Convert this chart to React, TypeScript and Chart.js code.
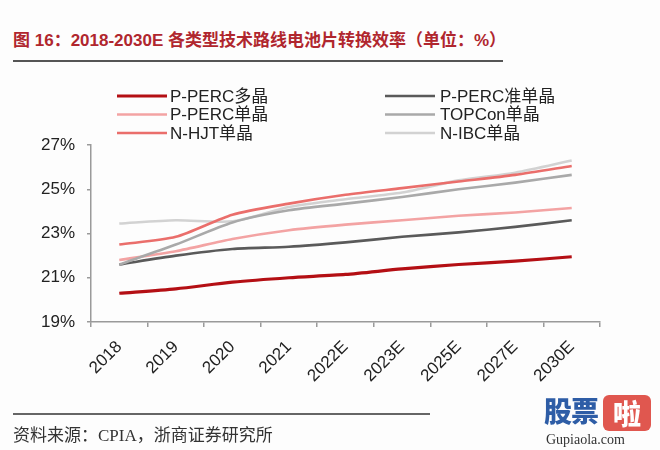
import React, { useEffect, useRef } from "react";
import { Chart, registerables } from "chart.js";

Chart.register(...registerables);

const categories = ["2018", "2019", "2020", "2021", "2022E", "2023E", "2025E", "2027E", "2030E"];
const percMulti = [20.3, 20.5, 20.8, 21.0, 21.15, 21.4, 21.6, 21.75, 21.95];
const percQuasi = [21.6, 22.0, 22.3, 22.4, 22.6, 22.85, 23.05, 23.3, 23.6];
const percMono = [21.8, 22.2, 22.75, 23.15, 23.4, 23.6, 23.8, 23.95, 24.15];
const topcon = [21.6, 22.5, 23.5, 24.05, 24.35, 24.65, 25.0, 25.3, 25.65];
const hjt = [22.5, 22.85, 23.85, 24.35, 24.75, 25.05, 25.35, 25.65, 26.05];
const ibc = [23.45, 23.6, 23.55, 24.2, 24.55, 24.85, 25.4, 25.75, 26.3];
const yTicks = [19, 21, 23, 25, 27];

const seriesNames = ["P-PERC多晶", "P-PERC准单晶", "P-PERC单晶", "TOPCon单晶", "N-HJT单晶", "N-IBC单晶"];
const seriesColors = ["#B40F14", "#5A5A5A", "#F3A3A3", "#A9A9A9", "#EA6E6B", "#D2D2D2"];
const seriesWidths = [3.2, 2.6, 2.6, 2.6, 2.6, 2.6];
const seriesData = [percMulti, percQuasi, percMono, topcon, hjt, ibc];

const FONT = "'Liberation Sans', Arial, 'Noto Sans CJK SC', sans-serif";

const legendPlugin = {
  id: "customLegend",
  afterDraw(chart: any) {
    const ctx = chart.ctx;
    const colLine = [117, 385];
    const colText = [170, 440];
    const rowY = [96, 114.5, 133];
    ctx.save();
    ctx.font = `17px ${FONT}`;
    ctx.textBaseline = "middle";
    ctx.fillStyle = "#222";
    chart.data.datasets.forEach((ds: any, i: number) => {
      const col = i % 2;
      const row = Math.floor(i / 2);
      const y = rowY[row];
      ctx.strokeStyle = ds.borderColor;
      ctx.lineWidth = ds.borderWidth;
      ctx.beginPath();
      ctx.moveTo(colLine[col], y);
      ctx.lineTo(colLine[col] + 50, y);
      ctx.stroke();
      ctx.fillText(ds.label, colText[col], y + 1);
    });
    ctx.restore();
  },
};

export default function App() {
  const ref = useRef<HTMLCanvasElement>(null);
  useEffect(() => {
    if (!ref.current) return;
    const order = [5, 3, 2, 1, 0, 4];
    const datasets = seriesNames.map((name, i) => ({
      label: name,
      data: seriesData[i],
      borderColor: seriesColors[i],
      backgroundColor: seriesColors[i],
      borderWidth: seriesWidths[i],
      pointRadius: 0,
      tension: 0.25,
      order: order[i],
    }));
    const chart = new Chart(ref.current, {
      type: "line",
      data: { labels: categories, datasets },
      options: {
        animation: false,
        responsive: false,
        maintainAspectRatio: false,
        layout: { padding: { top: 145, right: 60, left: 0, bottom: 0 } },
        plugins: { legend: { display: false }, tooltip: { enabled: false }, title: { display: false } },
        scales: {
          x: {
            offset: true,
            grid: { offset: true, drawOnChartArea: false, drawTicks: true, tickLength: 5, color: "#9A9A9A", lineWidth: 1.5 },
            border: { display: true, color: "#9A9A9A", width: 1.5 },
            ticks: { minRotation: 45, maxRotation: 45, padding: 10, color: "#222", font: { size: 17, family: FONT } },
            afterFit: (s: any) => { s.height = 128; },
          },
          y: {
            min: 19,
            max: 27,
            afterBuildTicks: (s: any) => { s.ticks = yTicks.map((v) => ({ value: v })); },
            grid: { drawOnChartArea: false, drawTicks: true, tickLength: 4, color: "#9A9A9A", lineWidth: 1.5 },
            border: { display: true, color: "#9A9A9A", width: 1.5 },
            ticks: { padding: 12, color: "#222", font: { size: 17, family: FONT }, callback: (v: any) => v + "%" },
            afterFit: (s: any) => { s.width = 91; },
          },
        },
      },
      plugins: [legendPlugin],
    });
    return () => chart.destroy();
  }, []);

  return (
    <div style={{ position: "fixed", left: 0, top: 0, width: 660, height: 450, background: "#FDFDFD", overflow: "hidden" }}>
      <div style={{ position: "absolute", left: 13, top: 29, fontFamily: "'Liberation Sans', Arial, 'Noto Sans CJK SC', sans-serif", fontWeight: 700, fontSize: 17, color: "#B0262E", whiteSpace: "nowrap", lineHeight: "24px" }}>
        图 16：2018-2030E 各类型技术路线电池片转换效率（单位：%）
      </div>
      <div style={{ position: "absolute", left: 13, top: 60, width: 490, height: 0, borderTop: "2px solid #555" }} />
      <canvas ref={ref} width={660} height={450} style={{ position: "absolute", left: 0, top: 0, width: 660, height: 450 }} />
      <div style={{ position: "absolute", left: 13, top: 413, width: 417, height: 0, borderTop: "2px solid #666" }} />
      <div style={{ position: "absolute", left: 13, top: 425, fontFamily: "'Liberation Serif', 'Noto Sans CJK SC', serif", fontSize: 17, color: "#333", whiteSpace: "nowrap", lineHeight: "22px" }}>
        资料来源：CPIA，浙商证券研究所
      </div>
      <div style={{ position: "absolute", left: 544, top: 392, fontFamily: "'Noto Sans CJK SC', sans-serif", fontWeight: 900, fontSize: 28, color: "#2E5DA6", whiteSpace: "nowrap", lineHeight: "36px", letterSpacing: -1 }}>
        股票
      </div>
      <div style={{ position: "absolute", left: 603, top: 395, width: 48, height: 36, borderRadius: 6, background: "#E0574F", color: "#fff", fontFamily: "'Noto Sans CJK SC', sans-serif", fontWeight: 900, fontSize: 28, lineHeight: "36px", textAlign: "center" }}>
        啦
      </div>
      <div style={{ position: "absolute", left: 546, top: 431, fontFamily: "'Liberation Serif', serif", fontSize: 14, color: "#333", whiteSpace: "nowrap", lineHeight: "17px" }}>
        Gupiaola.com
      </div>
    </div>
  );
}
